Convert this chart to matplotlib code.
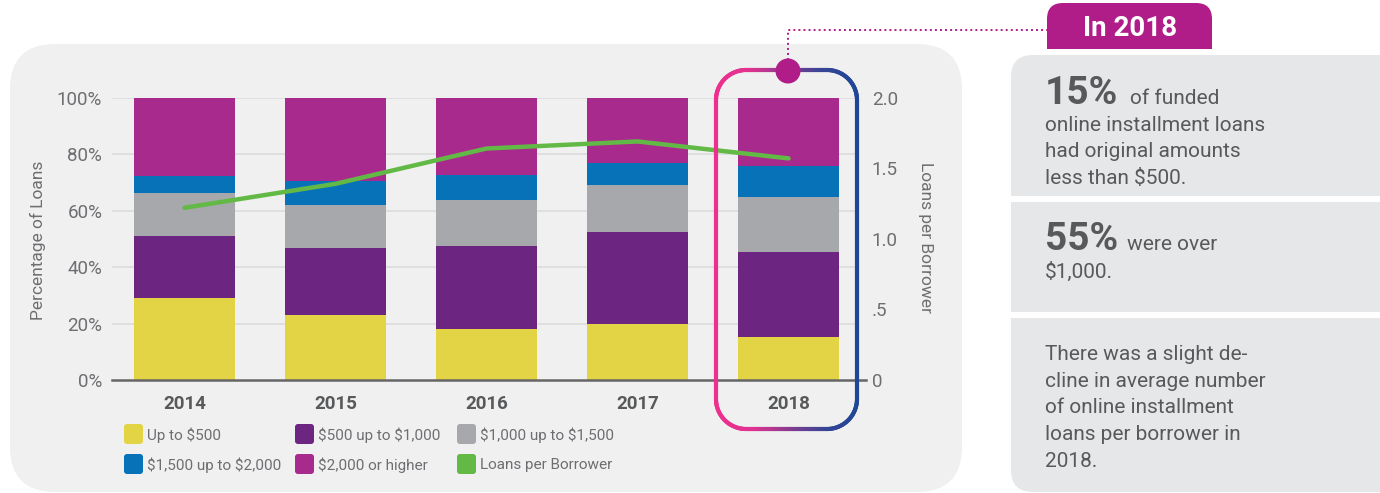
import numpy as np
import matplotlib
matplotlib.use('Agg')
import matplotlib.pyplot as plt
from matplotlib.patches import FancyBboxPatch, Rectangle, Circle
from matplotlib.collections import LineCollection
from matplotlib.colors import LinearSegmentedColormap

plt.rcParams['font.family'] = ['Roboto', 'DejaVu Sans']
plt.rcParams['text.parse_math'] = False

# ---------------- data ----------------
years = ['2014', '2015', '2016', '2017', '2018']
up_to_500 = [29.0, 23.0, 18.0, 19.8, 15.2]
from_500_to_1000 = [22.0, 23.8, 29.5, 32.6, 30.1]
from_1000_to_1500 = [15.2, 15.2, 16.3, 16.7, 19.5]
from_1500_to_2000 = [6.2, 8.5, 8.8, 7.8, 11.1]
over_2000 = [27.6, 29.5, 27.4, 23.1, 24.1]
loans_per_borrower = [1.22, 1.39, 1.64, 1.69, 1.57]

series_labels = ['Up to $500', '$500 up to $1,000', '$1,000 up to $1,500',
                 '$1,500 up to $2,000', '$2,000 or higher']
line_label = 'Loans per Borrower'
left_ticks = [0, 20, 40, 60, 80, 100]
left_tick_labels = ['0%', '20%', '40%', '60%', '80%', '100%']
right_ticks = [0, 0.5, 1.0, 1.5, 2.0]
right_tick_labels = ['0', '.5', '1.0', '1.5', '2.0']

colors = ['#e3d445', '#6c2682', '#a7a8ab', '#0872b9', '#a92a8d']
green = '#62b946'
magenta = '#b01c88'
txt_gray = '#6d6e71'
dark_gray = '#58595b'

W, H = 1380, 493
fig = plt.figure(figsize=(W / 100, H / 100), dpi=100)

# background layer (pixel coordinates, y down)
bg = fig.add_axes([0, 0, 1, 1], zorder=0)
bg.set_xlim(0, W)
bg.set_ylim(H, 0)
bg.axis('off')


def rrect(ax, x0, y0, x1, y1, r, color, z=1):
    p = FancyBboxPatch((x0, y0), x1 - x0, y1 - y0,
                       boxstyle=f"round,pad=0,rounding_size={r}",
                       fc=color, ec='none', zorder=z)
    ax.add_patch(p)


# main chart panel
rrect(bg, 10, 44, 962, 492, 45, '#f0f0f0')

# right info boxes
box_c = '#e6e7e8'
rrect(bg, 1011, 55, 1420, 196, 22, box_c)
bg.add_patch(Rectangle((1011, 150), 409, 46, fc=box_c, ec='none', zorder=1))
bg.add_patch(Rectangle((1011, 202), 409, 110, fc=box_c, ec='none', zorder=1))
rrect(bg, 1011, 318, 1420, 492, 22, box_c)
bg.add_patch(Rectangle((1011, 318), 409, 60, fc=box_c, ec='none', zorder=1))

# info texts
fs_body = 15
bg.text(1045, 104, '15%', fontsize=28, fontweight='bold', color=dark_gray, va='baseline', zorder=3)
bg.text(1130, 104, 'of funded', fontsize=fs_body, color=dark_gray, va='baseline', zorder=3)
for s, y in [('online installment loans', 131), ('had original amounts', 157),
             ('less than $500.', 184)]:
    bg.text(1045, y, s, fontsize=fs_body, color=dark_gray, va='baseline', zorder=3)
bg.text(1045, 250, '55%', fontsize=28, fontweight='bold', color=dark_gray, va='baseline', zorder=3)
bg.text(1127, 250, 'were over', fontsize=fs_body, color=dark_gray, va='baseline', zorder=3)
bg.text(1045, 278, '$1,000.', fontsize=fs_body, color=dark_gray, va='baseline', zorder=3)
for s, y in [('There was a slight de-', 360), ('cline in average number', 387),
             ('of online installment', 413), ('loans per borrower in', 440),
             ('2018.', 467)]:
    bg.text(1045, y, s, fontsize=fs_body, color=dark_gray, va='baseline', zorder=3)

# legend
leg_items = list(zip(series_labels, colors)) + [(line_label, green)]
col_x = [124, 295, 457]
row_y = [434, 464]
for i, (lab, c) in enumerate(leg_items):
    x = col_x[i % 3]
    y = row_y[i // 3]
    rrect(bg, x, y - 10, x + 19, y + 10, 3, c, z=2)
    bg.text(x + 23, y + 1, lab, fontsize=11, color=txt_gray, va='center', ha='left', zorder=3)

# axis labels
bg.text(38, 240, 'Percentage of Loans', rotation=90, fontsize=12.5, color=txt_gray,
        va='center', ha='center', zorder=3)
bg.text(925, 237, 'Loans per Borrower', rotation=270, fontsize=12.5, color=txt_gray,
        va='center', ha='center', zorder=3)

# ---------------- main axes ----------------
ax = fig.add_axes([112 / W, (H - 380) / H, (858 - 112) / W, (380 - 97.7) / H], zorder=2)
ax.patch.set_visible(False)
x = np.arange(len(years))
bottom = np.zeros(len(years))
for vals, c in zip([up_to_500, from_500_to_1000, from_1000_to_1500, from_1500_to_2000, over_2000], colors):
    ax.bar(x, vals, width=0.669, bottom=bottom, color=c, zorder=2, linewidth=0)
    bottom += np.array(vals)
ax.set_xlim(-0.48, 4.46)
ax.set_ylim(0, 100)
for t in left_ticks[1:]:
    ax.axhline(t, color='#dcdcdc', lw=1.2, zorder=0)
ax.set_yticks(left_ticks)
ax.set_yticklabels(left_tick_labels)
ax.set_xticks(x)
ax.set_xticklabels(years, fontsize=13.5, fontweight='bold', color=dark_gray)
ax.tick_params(axis='y', length=0, pad=7, labelsize=13.5, labelcolor=txt_gray)
ax.tick_params(axis='x', length=0, pad=11)
for s in ax.spines.values():
    s.set_visible(False)
ax.plot([-0.48, 4.51], [0, 0], color='#666666', lw=1.8, clip_on=False, zorder=4)

ax2 = ax.twinx()
ax2.patch.set_visible(False)
ax2.plot(x, loans_per_borrower, color=green, lw=3.2, zorder=5, solid_capstyle='round')
ax2.set_ylim(0, 2.0)
ax2.set_yticks(right_ticks)
ax2.set_yticklabels(right_tick_labels)
ax2.tick_params(axis='y', length=0, pad=10, labelsize=13.5, labelcolor=txt_gray)
for s in ax2.spines.values():
    s.set_visible(False)

# ---------------- overlay (highlight) ----------------
ov = fig.add_axes([0, 0, 1, 1], zorder=5)
ov.set_xlim(0, W)
ov.set_ylim(H, 0)
ov.axis('off')
ov.patch.set_visible(False)


def rounded_rect_points(x0, y0, x1, y1, r):
    pts = []
    def line(a, b, n=80):
        return list(zip(np.linspace(a[0], b[0], n), np.linspace(a[1], b[1], n)))
    def arc(cx, cy, t0, t1, n=40):
        t = np.radians(np.linspace(t0, t1, n))
        return list(zip(cx + r * np.cos(t), cy + r * np.sin(t)))
    pts += line((x0 + r, y0), (x1 - r, y0))
    pts += arc(x1 - r, y0 + r, -90, 0)
    pts += line((x1, y0 + r), (x1, y1 - r))
    pts += arc(x1 - r, y1 - r, 0, 90)
    pts += line((x1 - r, y1), (x0 + r, y1))
    pts += arc(x0 + r, y1 - r, 90, 180)
    pts += line((x0, y1 - r), (x0, y0 + r))
    pts += arc(x0 + r, y0 + r, 180, 270)
    return np.array(pts)


hx0, hy0, hx1, hy1 = 716, 70, 857, 429
pts = rounded_rect_points(hx0, hy0, hx1, hy1, 30)
segs = np.stack([pts[:-1], pts[1:]], axis=1)
mids = segs.mean(axis=1)[:, 0]
cmap = LinearSegmentedColormap.from_list('hl', ['#ee2f8f', '#e0338f', '#8a3b8f', '#3a4596', '#1f4696'])
lc = LineCollection(segs, colors=cmap((mids - hx0) / (hx1 - hx0)), linewidths=3.0,
                    capstyle='round', zorder=6)
ov.add_collection(lc)

# dotted connector + circle
ov.plot([788, 788, 1047], [60, 30, 30], color=magenta, lw=1.4, ls=(0, (1, 1.6)), zorder=6)
ov.add_patch(Circle((788, 71), 12.5, fc=magenta, ec='none', zorder=7))

# tab
rrect(ov, 1047, 3, 1212, 49, 16, magenta, z=6)
ov.add_patch(Rectangle((1047, 30), 165, 19, fc=magenta, ec='none', zorder=6))
ov.text(1130, 28, 'In 2018', fontsize=20, fontweight='bold', color='white',
        ha='center', va='center', zorder=7)

fig.savefig('out.png', dpi=100)
